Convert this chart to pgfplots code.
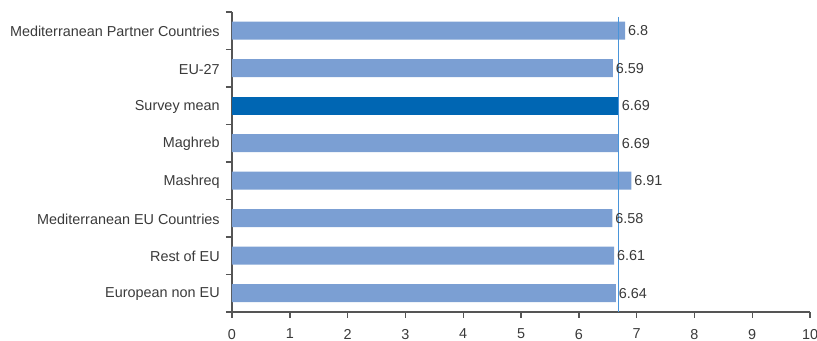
\documentclass[border=0pt]{standalone}
\usepackage{pgfplots}
\pgfplotsset{compat=1.18}
\usepackage{fontspec}
\setmainfont{Liberation Sans}
\definecolor{barlight}{HTML}{7B9FD3}
\definecolor{bardark}{HTML}{0066B3}
\definecolor{refline}{HTML}{4A95DA}
\definecolor{axgray}{HTML}{555555}
\definecolor{txtgray}{HTML}{3A3A3A}
\begin{document}
\begin{tikzpicture}
\begin{axis}[
  scale only axis,
  width=289pt, height=150pt,
  xmin=0, xmax=10, ymin=-0.5, ymax=7.5,
  y dir=reverse,
  axis x line=bottom, axis y line=left,
  axis line style={axgray, line width=0.7pt, -},
  xtick={0,...,10},
  ytick={0,...,7},
  yticklabels={Mediterranean Partner Countries, EU-27, Survey mean, Maghreb, Mashreq, Mediterranean EU Countries, Rest of EU, European non EU},
  major tick length=0pt,
  extra y ticks={-0.5,0.5,1.5,2.5,3.5,4.5,5.5,6.5,7.5},
  extra y tick labels={},
  extra y tick style={major tick length=3pt, tick style={axgray, line width=0.7pt}, tick align=outside},
  extra x ticks={0,...,10},
  extra x tick labels={},
  extra x tick style={major tick length=3pt, tick style={axgray, line width=0.7pt}, tick align=outside},
  tick style={axgray},
  /pgf/number format/assume math mode=true,
  yticklabel style={font=\fontsize{7.2}{8.5}\selectfont, text=txtgray, xshift=-2.6pt, yshift=-0.4pt},
  xticklabel style={font=\fontsize{7.2}{8.5}\selectfont, text=txtgray, yshift=-5pt},
  bar width=9pt,
  clip=false,
]
\coordinate (O) at (axis cs:0,7.5);
\addplot[xbar, bar shift=0pt, fill=barlight, draw=none,
  nodes near coords,
  every node near coord/.append style={font=\fontsize{7.2}{8.5}\selectfont, text=txtgray, anchor=west, xshift=-2pt}]
  coordinates {(6.8,0) (6.59,1) (6.69,3) (6.91,4) (6.58,5) (6.61,6) (6.64,7)};
\addplot[xbar, bar shift=0pt, fill=bardark, draw=none,
  nodes near coords,
  every node near coord/.append style={font=\fontsize{7.2}{8.5}\selectfont, text=txtgray, anchor=west, xshift=-2pt}]
  coordinates {(6.69,2)};
\addplot[sharp plot, no marks, refline, line width=0.7pt] coordinates {(6.69,-0.37) (6.69,7.5)};
\end{axis}
\pgfresetboundingbox
\path (O) ++(-116pt,-14.5pt) rectangle ++(408.5pt,170.5pt);
\end{tikzpicture}
\end{document}
